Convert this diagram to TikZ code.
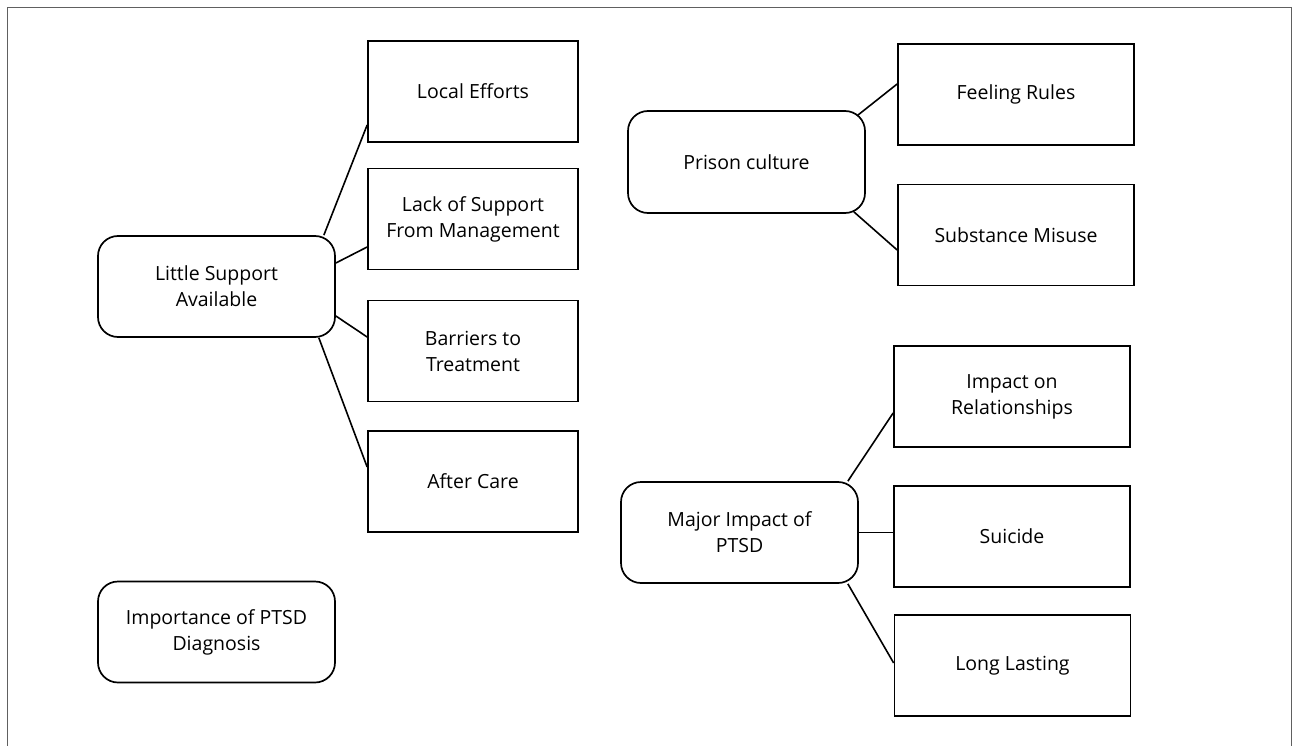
\documentclass[tikz,border=0pt]{standalone}
\usepackage{fontspec}
\setmainfont{Open Sans}
\usetikzlibrary{calc}
\begin{document}
\begin{tikzpicture}[x=1pt,y=-1pt,
  every node/.style={font=\fontsize{19.5}{26}\selectfont, align=center, inner sep=0pt},
  topic/.style={draw=black, line width=1.7pt, rounded corners=20pt, minimum width=237pt, minimum height=101pt},
  leaf/.style={draw=black, line width=1.7pt, minimum width=210pt, minimum height=101pt},
  rleaf/.style={leaf, minimum width=236pt},
  link/.style={line width=1.6pt}]
% canvas and frame (open at the bottom)
\useasboundingbox (0,0) rectangle (1295,746);
\draw[gray!75!black, line width=1pt] (7.5,746) -- (7.5,7.5) -- (1291.5,7.5) -- (1291.5,746);

% left group
\node[topic] (lsa) at (216.5,286.5) {Little Support\\Available};
\node[leaf] (le) at (473,91.5) {Local Efforts};
\node[leaf] (lack) at (473,219) {Lack of Support\\From Management};
\node[leaf] (bar) at (473,351) {Barriers to\\Treatment};
\node[leaf] (ac) at (473,481.5) {After Care};
\node[topic] (imp) at (216.5,632) {Importance of PTSD\\Diagnosis};

% prison culture group
\node[topic, minimum height=102pt] (pc) at (746.5,162) {Prison culture};
\node[rleaf] (fr) at (1016,94.5) {Feeling Rules};
\node[rleaf] (sm) at (1016,235) {Substance Misuse};

% major impact group
\node[topic] (mi) at (739.5,532.5) {Major Impact of\\PTSD};
\node[rleaf] (ir) at (1012,396.5) {Impact on\\Relationships};
\node[rleaf] (su) at (1012,536.5) {Suicide};
\node[rleaf] (ll) at (1012.5,665.5) {Long Lasting};

% connectors
\draw[link] ($(lsa.north east)+(-12,0)$) -- ($(le.west)+(0,33.5)$);
\draw[link] ($(lsa.east)+(0,-23.5)$) -- ($(lack.west)+(0,28)$);
\draw[link] ($(lsa.east)+(0,29.5)$) -- ($(bar.west)+(0,-14)$);
\draw[link] ($(lsa.south east)+(-17,0)$) -- ($(ac.west)+(0,-14.5)$);

\draw[link] ($(pc.north east)+(-8,5)$) -- ($(fr.west)+(0,-10.5)$);
\draw[link] ($(pc.south east)+(-12,-2)$) -- ($(sm.west)+(0,15)$);

\draw[link] ($(mi.north east)+(-11,0)$) -- ($(ir.west)+(0,16.5)$);
\draw[link] (mi.east) -- (mi.east -| su.west);
\draw[link] ($(mi.south east)+(-11,0)$) -- ($(ll.west)+(0,-2.5)$);
\end{tikzpicture}
\end{document}
